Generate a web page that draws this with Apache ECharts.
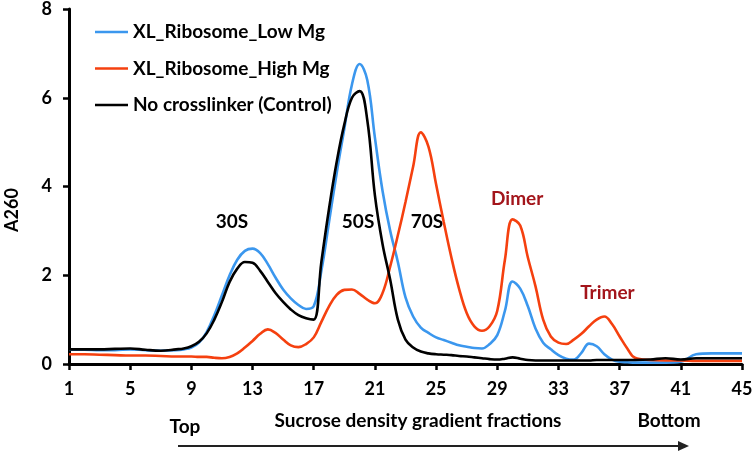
<!DOCTYPE html>
<html>
<head>
<meta charset="utf-8">
<script src="https://cdn.jsdelivr.net/npm/echarts@6/dist/echarts.min.js"></script>
<style>html,body{margin:0;padding:0;background:#fff}#c{width:756px;height:454px}</style>
</head>
<body>
<div id="c"></div>
<script>
// Fraction numbers (x) shared by all three traces
const fractions = [1,2,3,4,5,6,7,8,
  8.5,9,9.5,10,10.5,11,11.5,12,12.5,13,13.5,14,14.5,15,15.5,16,16.5,17,17.5,18,18.5,19,19.5,20,
  20.5,21,21.5,22,22.5,23,23.5,24,24.5,25,25.5,26,26.5,27,27.5,28,28.5,29,29.5,30,30.5,31,31.5,
  32,32.5,33,33.5,34,34.5,35,35.5,36,36.5,37,37.5,38,
  39,40,41,42,43,44,45];
// A260 readings
const lowMg = [0.32,0.32,0.31,0.31,0.33,0.31,0.30,0.31,
  0.33,0.37,0.48,0.72,1.10,1.55,2.00,2.35,2.55,2.60,2.50,2.25,1.95,1.68,1.48,1.33,1.24,1.30,2.10,3.20,4.30,5.30,6.30,6.76,
  6.40,5.10,3.90,3.00,2.30,1.50,1.07,0.82,0.70,0.60,0.54,0.48,0.42,0.39,0.36,0.35,0.45,0.65,1.20,1.86,1.70,1.30,0.80,
  0.48,0.33,0.20,0.12,0.10,0.25,0.46,0.40,0.22,0.10,0.05,0.04,0.03,
  0.03,0.03,0.05,0.22,0.24,0.24,0.24];
const highMg = [0.22,0.22,0.21,0.20,0.19,0.19,0.18,0.17,
  0.17,0.17,0.16,0.16,0.14,0.13,0.16,0.24,0.37,0.52,0.68,0.78,0.70,0.55,0.42,0.38,0.45,0.60,0.95,1.30,1.56,1.67,1.68,1.58,
  1.45,1.37,1.60,2.20,2.90,3.65,4.45,5.22,4.90,4.05,3.20,2.40,1.70,1.15,0.85,0.75,0.85,1.20,2.35,3.26,3.12,2.40,1.75,
  1.00,0.62,0.48,0.45,0.55,0.68,0.85,1.00,1.07,0.90,0.62,0.35,0.14,
  0.09,0.08,0.08,0.07,0.07,0.07,0.07];
const control = [0.33,0.33,0.33,0.34,0.35,0.32,0.30,0.33,
  0.35,0.40,0.50,0.69,1.00,1.40,1.85,2.15,2.30,2.28,2.10,1.85,1.60,1.40,1.23,1.10,1.03,1.00,2.30,3.50,4.55,5.40,6.00,6.15,
  5.50,3.80,2.70,1.90,1.00,0.55,0.37,0.28,0.24,0.22,0.21,0.20,0.18,0.17,0.15,0.13,0.11,0.10,0.12,0.15,0.12,0.09,0.08,
  0.08,0.08,0.08,0.08,0.08,0.08,0.08,0.09,0.09,0.09,0.09,0.09,0.09,
  0.10,0.13,0.10,0.13,0.13,0.13,0.13];
const seriesNames = ['XL_Ribosome_Low Mg','XL_Ribosome_High Mg','No crosslinker (Control)'];
const xTicks = [1,5,9,13,17,21,25,29,33,37,41,45];
const peakLabels = ['30S','50S','70S','Dimer','Trimer'];
const peakAt = [[11.65,3.2],[19.9,3.21],[24.4,3.21],[30.3,3.72],[36.2,1.6]];

const FONT = 'Lato';
const colors = ['#3b97ee','#f5400f','#000000'];
const chart = echarts.init(document.getElementById('c'), null, {renderer:'canvas'});
const seriesValues = [lowMg, highMg, control];
chart.setOption({
  animation:false,
  backgroundColor:'#fff',
  grid:{left:69, right:14, top:9, bottom:90},
  legend:{
    orient:'vertical', left:95, top:22, padding:0,
    icon:'rect', itemWidth:33, itemHeight:2.6, itemGap:16.5,
    data:seriesNames,
    textStyle:{fontFamily:FONT, fontWeight:'bold', fontSize:19, lineHeight:20, color:'#000'}
  },
  xAxis:{
    type:'value', min:1, max:45,
    axisLine:{lineStyle:{color:'#000', width:3}},
    axisTick:{customValues:xTicks, length:6, lineStyle:{color:'#000', width:2.5}},
    axisLabel:{customValues:xTicks, margin:16, fontFamily:FONT, fontWeight:'bold', fontSize:18, color:'#000'},
    splitLine:{show:false}
  },
  yAxis:{
    type:'value', min:0, max:8, interval:2,
    axisLine:{show:true, lineStyle:{color:'#000', width:3}},
    axisTick:{show:true, length:6, lineStyle:{color:'#000', width:2.5}},
    axisLabel:{margin:17, fontFamily:FONT, fontWeight:'bold', fontSize:18, color:'#000'},
    splitLine:{show:false}
  },
  series: seriesNames.map((name,k)=>({
    name, type:'line', symbol:'none', smooth:0.4,
    lineStyle:{width:2.6, color:colors[k]}, itemStyle:{color:colors[k]},
    data: fractions.map((f,i)=>[f, seriesValues[k][i]])
  }))
});

const graphics = [];
peakLabels.forEach((t,i)=>{
  const p = chart.convertToPixel({gridIndex:0}, peakAt[i]);
  graphics.push({type:'text', x:p[0], y:p[1], style:{text:t, fontFamily:FONT, fontWeight:'bold', fontSize:19,
    fill: i>=3 ? '#a3151b' : '#000', align:'center', verticalAlign:'middle'}});
});
graphics.push({type:'text', x:12, y:210, rotation:Math.PI/2, style:{text:'A260', fontFamily:FONT, fontWeight:'bold', fontSize:18, fill:'#000', align:'center', verticalAlign:'middle'}});
graphics.push({type:'text', x:185, y:427, style:{text:'Top', fontFamily:FONT, fontWeight:'bold', fontSize:19, fill:'#000', align:'center', verticalAlign:'middle'}});
graphics.push({type:'text', x:418, y:421, style:{text:'Sucrose density gradient fractions', fontFamily:FONT, fontWeight:'bold', fontSize:19, fill:'#000', align:'center', verticalAlign:'middle'}});
graphics.push({type:'text', x:669, y:421, style:{text:'Bottom', fontFamily:FONT, fontWeight:'bold', fontSize:19, fill:'#000', align:'center', verticalAlign:'middle'}});
graphics.push({type:'line', shape:{x1:178, y1:446, x2:680, y2:446}, style:{stroke:'#222', lineWidth:2}});
graphics.push({type:'polygon', shape:{points:[[678,441],[689,446],[678,451]]}, style:{fill:'#222'}});
chart.setOption({graphic:graphics});
</script>
</body>
</html>
